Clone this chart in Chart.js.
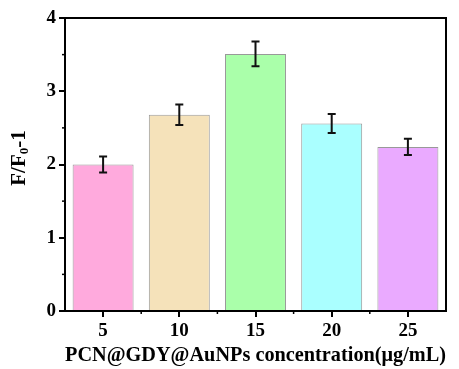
<!DOCTYPE html>
<html><head><meta charset="utf-8">
<script src="https://cdn.jsdelivr.net/npm/chart.js@4.4.0/dist/chart.umd.min.js"></script>
<style>html,body{margin:0;padding:0;background:#fff}#wrap{width:459px;height:369px}</style>
</head><body><div id="wrap"><canvas id="c" width="459" height="369"></canvas></div>
<script>
const categories = ['5', '10', '15', '20', '25'];
const values = [2.00, 2.68, 3.51, 2.56, 2.24];
const errors = [0.11, 0.14, 0.17, 0.13, 0.11];
const barColors = ['#FFAADD', '#F5E2BA', '#AAFFAA', '#AAFFFF', '#EAAAFF'];
const yTicks = [0, 1, 2, 3, 4];
const xTitle = 'PCN@GDY@AuNPs concentration(μg/mL)';
const FONT = '"Liberation Serif","Times New Roman",serif';

const decor = {
  id: 'decor',
  afterDatasetsDraw(chart) {
    const ctx = chart.ctx, a = chart.chartArea;
    const x = chart.scales.x, y = chart.scales.y;
    ctx.save();
    // error bars
    ctx.strokeStyle = '#111'; ctx.lineWidth = 2;
    values.forEach((v, i) => {
      const px = x.getPixelForValue(i);
      const t = y.getPixelForValue(v + errors[i]);
      const b = y.getPixelForValue(v - errors[i]);
      ctx.beginPath();
      ctx.moveTo(px, t); ctx.lineTo(px, b);
      ctx.moveTo(px - 4, t); ctx.lineTo(px + 4, t);
      ctx.moveTo(px - 4, b); ctx.lineTo(px + 4, b);
      ctx.stroke();
    });
    // frame
    ctx.strokeStyle = '#000'; ctx.lineWidth = 2;
    ctx.strokeRect(a.left, a.top, a.right - a.left, a.bottom - a.top);
    // minor ticks y
    ctx.lineWidth = 1.5;
    for (let k = 0; k < yTicks.length - 1; k++) {
      const py = y.getPixelForValue((yTicks[k] + yTicks[k + 1]) / 2);
      ctx.beginPath(); ctx.moveTo(a.left - 3, py); ctx.lineTo(a.left, py); ctx.stroke();
    }
    // minor ticks x
    for (let i = 0; i < categories.length - 1; i++) {
      const px = (x.getPixelForValue(i) + x.getPixelForValue(i + 1)) / 2;
      ctx.beginPath(); ctx.moveTo(px, a.bottom); ctx.lineTo(px, a.bottom + 3); ctx.stroke();
    }
    // y title with subscript
    ctx.fillStyle = '#000';
    ctx.translate(20, 158);
    ctx.rotate(-Math.PI / 2);
    const big = 'bold 21px ' + FONT, small = 'bold 13px ' + FONT;
    ctx.font = big; const w1 = ctx.measureText('F/F').width;
    ctx.font = small; const w2 = ctx.measureText('0').width;
    ctx.font = big; const w3 = ctx.measureText('-1').width;
    let sx = -(w1 + w2 + w3) / 2;
    ctx.textBaseline = 'middle'; ctx.textAlign = 'left';
    ctx.font = big; ctx.fillText('F/F', sx, 0); sx += w1;
    ctx.font = small; ctx.fillText('0', sx, 5); sx += w2;
    ctx.font = big; ctx.fillText('-1', sx, 0);
    ctx.restore();
  }
};

new Chart(document.getElementById('c'), {
  type: 'bar',
  data: {
    labels: categories,
    datasets: [{
      data: values,
      backgroundColor: barColors,
      borderColor: '#999',
      borderWidth: 1,
      categoryPercentage: 1,
      barPercentage: 0.8
    }]
  },
  options: {
    responsive: false,
    animation: false,
    devicePixelRatio: 1,
    layout: { padding: { top: 18, right: 13, left: 0, bottom: 0 } },
    plugins: { legend: { display: false }, tooltip: { enabled: false } },
    scales: {
      x: {
        offset: true,
        grid: { offset: false, drawOnChartArea: false, color: '#000', lineWidth: 2, tickLength: 6, tickWidth: 2 },
        border: { display: true, color: '#000', width: 2 },
        ticks: { color: '#000', font: { family: FONT, size: 19, weight: 'bold' }, padding: 3, maxRotation: 0 },
        title: { display: true, text: xTitle, color: '#000', font: { family: FONT, size: 22, weight: 'bold' }, padding: { top: 0, bottom: 0 } },
        afterFit(s) { s.height = 58; }
      },
      y: {
        min: 0, max: 4,
        afterBuildTicks(s) { s.ticks = yTicks.map(v => ({ value: v })); },
        grid: { drawOnChartArea: false, color: '#000', lineWidth: 2, tickLength: 6, tickWidth: 2 },
        border: { display: true, color: '#000', width: 2 },
        ticks: { color: '#000', font: { family: FONT, size: 19, weight: 'bold' }, padding: 3 },
        afterFit(s) { s.width = 65; }
      }
    }
  },
  plugins: [decor]
});
</script></body></html>
